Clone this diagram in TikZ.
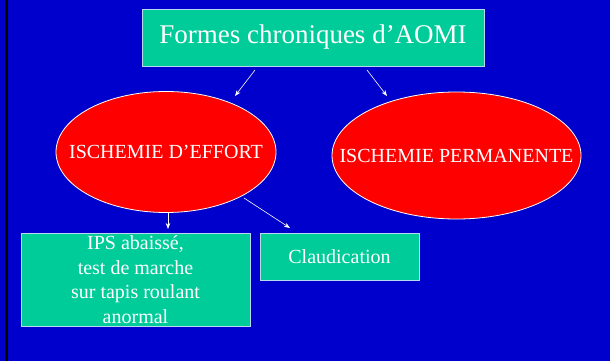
\documentclass[tikz,border=0pt]{standalone}
\usepackage{fontspec}
\setmainfont{Liberation Serif}
\usetikzlibrary{shapes.geometric,arrows.meta}
\definecolor{bgblue}{HTML}{0000CC}
\definecolor{boxgreen}{HTML}{00CC99}
\definecolor{ellred}{HTML}{FF0000}
\definecolor{edgeblue}{HTML}{B8D8F0}
\tikzset{
  greenbox/.style={draw=edgeblue, line width=0.8pt, fill=boxgreen, text=white, inner sep=0pt, align=center},
  redell/.style={ellipse, draw=white, line width=0.8pt, fill=ellred, inner sep=0pt},
  elltext/.style={text=white, inner sep=0pt, font=\fontsize{20}{24}\selectfont},
  arr/.style={draw=white, line width=0.6pt, -{Stealth[length=6pt,width=4.5pt]}},
}
\begin{document}
\begin{tikzpicture}[x=1pt,y=-1pt]
\fill[bgblue] (0,0) rectangle (610,361);
\useasboundingbox (0,0) rectangle (610,361);
\fill[black] (5,0) rectangle (8,361);

\node[greenbox, minimum width=342pt, minimum height=57pt, font=\fontsize{27}{32}\selectfont] (title) at (313,37.5) {Formes chroniques d’AOMI};

\node[redell, minimum width=220pt, minimum height=121pt] (effort) at (166,152) {};
\node[elltext] (effortlbl) at (effort.center) {ISCHEMIE D’EFFORT};
\node[redell, minimum width=249pt, minimum height=127pt] (perm) at (456.5,155.5) {};
\node[elltext] (permlbl) at (perm.center) {ISCHEMIE PERMANENTE};

\node[greenbox, minimum width=229pt, minimum height=93pt, font=\fontsize{20}{24.5}\selectfont] (ips) at (135.5,279.5) {IPS abaissé,\\test de marche\\sur tapis roulant\\anormal};
\node[greenbox, minimum width=159pt, minimum height=47pt, font=\fontsize{20}{24}\selectfont] (claud) at (339.5,256.5) {Claudication};

\coordinate (t1) at (255,70);
\coordinate (e1) at (235,96);
\coordinate (t2) at (367,70);
\coordinate (p1) at (387,96);
\coordinate (f1) at (168,213);
\coordinate (i1) at (168,229);
\coordinate (f2) at (244,198);
\coordinate (c1) at (290,228);

\draw[arr] (t1) -- (e1);
\draw[arr] (t2) -- (p1);
\draw[arr] (f1) -- (i1);
\draw[arr] (f2) -- (c1);
\end{tikzpicture}
\end{document}
